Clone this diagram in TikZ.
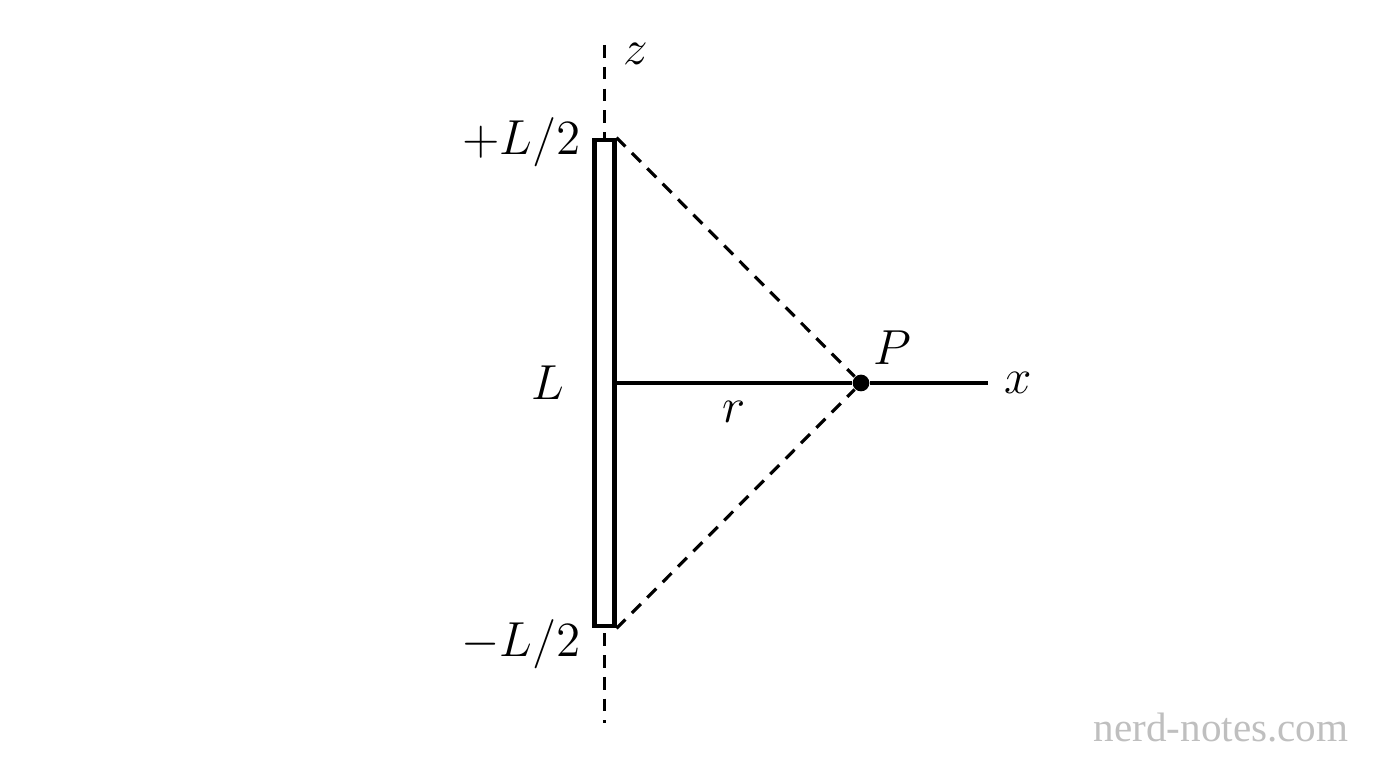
\RequirePackage{fix-cm}
\documentclass[tikz,border=0pt]{standalone}
\usepackage{fontspec}
\newfontfamily\markfont{Liberation Serif}
\usetikzlibrary{positioning}

\begin{document}
\begin{tikzpicture}[x=1cm,y=1cm,
    rod/.style={draw,fill=white,rectangle,line width=1.4pt,minimum width=0.195cm,minimum height=4.86cm,inner sep=0pt},
    dot/.style={circle,fill,inner sep=0pt,minimum size=0.167cm},
    lab/.style={inner sep=1pt,font=\fontsize{14}{17}\selectfont},
    guide/.style={dash pattern=on 3.6pt off 2.6pt,line width=0.9pt},
    axisline/.style={line width=0.9pt},
    wmark/.style={text=black!25,font=\markfont\fontsize{11.7}{14}\selectfont}]
    \useasboundingbox (0,0) rectangle (13.76,7.68);
    \coordinate (ztop) at (6.043,7.23);
    \coordinate (zbot) at (6.043,0.45);
    \coordinate (xend) at (9.88,3.85);
    \draw[guide] (ztop) -- (zbot);
    \node[rod] (rod) at (6.043,3.85) {};
    \node[dot] (P)   at (8.61,3.85)  {};
    \node[lab, left=0.24cm of rod]                      (Llab) {$L$};
    \node[lab, left=0.07cm of rod.north west, yshift=-0.05cm] (toplab) {$+L/2$};
    \node[lab, left=0.07cm of rod.south west, yshift=-0.16cm] (botlab) {$-L/2$};
    \node[lab, anchor=base west] (zlab) at ([xshift=0.15cm,yshift=-0.2cm]ztop) {$z$};
    \node[lab, anchor=base west] (Plab) at ([xshift=0.08cm,yshift=0.18cm]P.center) {$P$};
    \node[lab, anchor=base west] (xlab) at ([xshift=0.12cm,yshift=-0.11cm]xend) {$x$};
      \path[axisline]
        (rod.east) edge node[lab, pos=0.5, anchor=base, yshift=-0.4cm] (rlab) {$r$} (P)
        (P) edge (xend);
      \path[guide]
        (rod.north east) edge (P)
        (rod.south east) edge (P);
    \node[wmark, anchor=base] (wm) at (12.21,0.26) {nerd-notes.com};
    \end{tikzpicture}
\end{document}
